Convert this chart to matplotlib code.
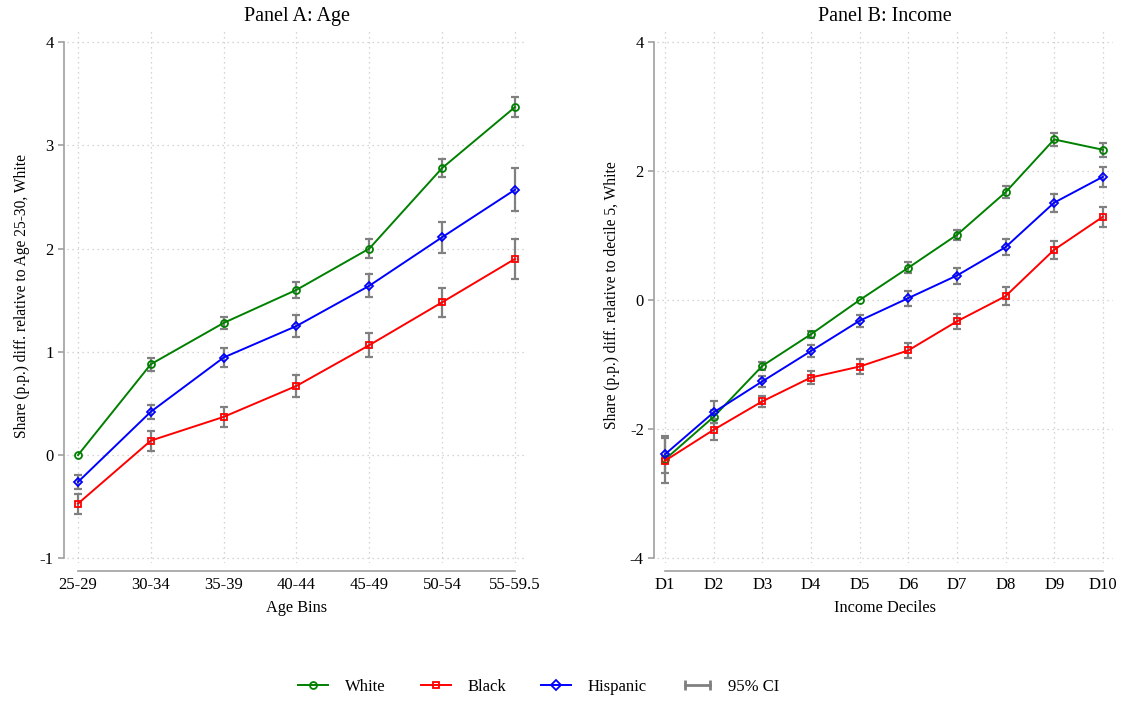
import matplotlib
matplotlib.use("Agg")
import matplotlib.pyplot as plt
import numpy as np
from matplotlib.lines import Line2D
from matplotlib.legend_handler import HandlerBase

plt.rcParams['font.family'] = ['Liberation Serif', 'DejaVu Serif']

# Panel A : age
age_bins = ["25-29", "30-34", "35-39", "40-44", "45-49", "50-54", "55-59.5"]
age_white = [0.00, 0.88, 1.28, 1.60, 2.00, 2.78, 3.37]
age_white_ci = [0.00, 0.063, 0.055, 0.08, 0.09, 0.085, 0.10]
age_black = [-0.47, 0.14, 0.37, 0.67, 1.065, 1.48, 1.90]
age_black_ci = [0.097, 0.097, 0.10, 0.11, 0.115, 0.14, 0.19]
age_hisp = [-0.26, 0.42, 0.945, 1.25, 1.64, 2.11, 2.57]
age_hisp_ci = [0.066, 0.068, 0.089, 0.108, 0.11, 0.15, 0.21]

# Panel B : income deciles
deciles = ["D1", "D2", "D3", "D4", "D5", "D6", "D7", "D8", "D9", "D10"]
inc_white = [-2.47, -1.81, -1.02, -0.53, 0.00, 0.50, 1.01, 1.67, 2.49, 2.33]
inc_white_ci = [0.05, 0.10, 0.067, 0.05, 0.00, 0.083, 0.083, 0.095, 0.10, 0.11]
inc_black = [-2.49, -2.01, -1.57, -1.20, -1.03, -0.78, -0.33, 0.06, 0.78, 1.29]
inc_black_ci = [0.35, 0.16, 0.09, 0.106, 0.11, 0.12, 0.12, 0.14, 0.14, 0.155]
inc_hisp = [-2.39, -1.74, -1.26, -0.79, -0.32, 0.03, 0.38, 0.82, 1.51, 1.91]
inc_hisp_ci = [0.29, 0.17, 0.083, 0.09, 0.095, 0.116, 0.124, 0.12, 0.14, 0.155]

colors = {"White": "#008000", "Black": "#ff0000", "Hispanic": "#0000ff"}
markers = {"White": "o", "Black": "s", "Hispanic": "D"}
ci_color = "#808080"
W, H = 1122, 702


class CIHandler(HandlerBase):
    # ligne grise avec petites barres aux deux bouts
    def create_artists(self, legend, orig_handle, xdescent, ydescent,
                       width, height, fontsize, trans):
        y = height / 2 - ydescent
        line = Line2D([-xdescent + 2, width - xdescent - 1], [y, y], color=ci_color,
                      lw=2, marker='|', markersize=7, mew=2, transform=trans)
        return [line]


def draw_panel(ax, labels, series, yticks, ylim, xpad, title, xlabel, ylabel):
    x = np.arange(len(labels))
    for name, vals, ci in series:
        ci = np.array(ci)
        mask = ci > 0
        ax.errorbar(x[mask], np.array(vals)[mask], yerr=ci[mask], fmt='none',
                    ecolor=ci_color, elinewidth=1.6, capsize=2.8, capthick=1.6, zorder=2)
        ax.plot(x, vals, color=colors[name], lw=1.4, marker=markers[name],
                ms=5 if name != "Hispanic" else 4.5, mfc='none', mew=1.3, zorder=3)
    ax.set_xlim(-xpad[0], len(labels) - 1 + xpad[1])
    ax.set_ylim(*ylim)
    ax.set_xticks(x)
    ax.set_xticklabels(labels)
    ax.set_yticks(yticks)
    ax.set_yticklabels([str(t) for t in yticks])
    ax.grid(True, color="#c8c8c8", linestyle=(0, (1, 3)), lw=0.9)
    ax.set_axisbelow(True)
    for s in ["top", "right"]:
        ax.spines[s].set_visible(False)
    ax.spines["left"].set_position(("outward", 2))
    ax.spines["left"].set_bounds(yticks[0], yticks[-1])
    ax.spines["bottom"].set_position(("outward", 6))
    ax.spines["bottom"].set_bounds(0, len(labels) - 1)
    for s in ["left", "bottom"]:
        ax.spines[s].set_color("#a0a0a0")
        ax.spines[s].set_linewidth(1.2)
    ax.tick_params(axis="y", colors="#a0a0a0", labelcolor="black",
                   labelsize=12, length=4, width=1.2)
    ax.tick_params(axis="x", colors="#a0a0a0", labelcolor="black",
                   labelsize=12, length=0, pad=4)
    ax.set_title(title, fontsize=14.5, pad=5)
    ax.set_xlabel(xlabel, fontsize=11.7, labelpad=5)
    ax.set_ylabel(ylabel, fontsize=11.2, labelpad=7)


fig = plt.figure(figsize=(W / 100, H / 100), dpi=100)

# positions en pixels de la zone de tracé
axA = fig.add_axes([67 / W, 1 - 563 / H, (527 - 67) / W, (563 - 28) / H])
axB = fig.add_axes([657 / W, 1 - 563 / H, (1113 - 657) / W, (563 - 28) / H])

draw_panel(axA, age_bins,
           [("White", age_white, age_white_ci),
            ("Black", age_black, age_black_ci),
            ("Hispanic", age_hisp, age_hisp_ci)],
           [-1, 0, 1, 2, 3, 4], (-1.045, 4.136), (0.151, 0.165),
           "Panel A: Age", "Age Bins",
           "Share (p.p.) diff. relative to Age 25-30, White")

draw_panel(axB, deciles,
           [("White", inc_white, inc_white_ci),
            ("Black", inc_black, inc_black_ci),
            ("Hispanic", inc_hisp, inc_hisp_ci)],
           [-4, -2, 0, 2, 4], (-4.075, 4.217), (0.165, 0.21),
           "Panel B: Income", "Income Deciles",
           "Share (p.p.) diff. relative to decile 5, White")

handles = [Line2D([], [], color=colors[n], lw=1.4, marker=markers[n], ms=5,
                  mfc='none', mew=1.3) for n in ["White", "Black", "Hispanic"]]
handles.append(Line2D([], [], color=ci_color))
fig.legend(handles, ["White", "Black", "Hispanic", "95% CI"],
           handler_map={handles[-1]: CIHandler()},
           loc="center", bbox_to_anchor=(539 / W, 1 - 687 / H), ncol=4,
           frameon=False, fontsize=12, handlelength=1.8,
           columnspacing=2.1, handletextpad=1.0)

fig.savefig("out.png", dpi=100)
